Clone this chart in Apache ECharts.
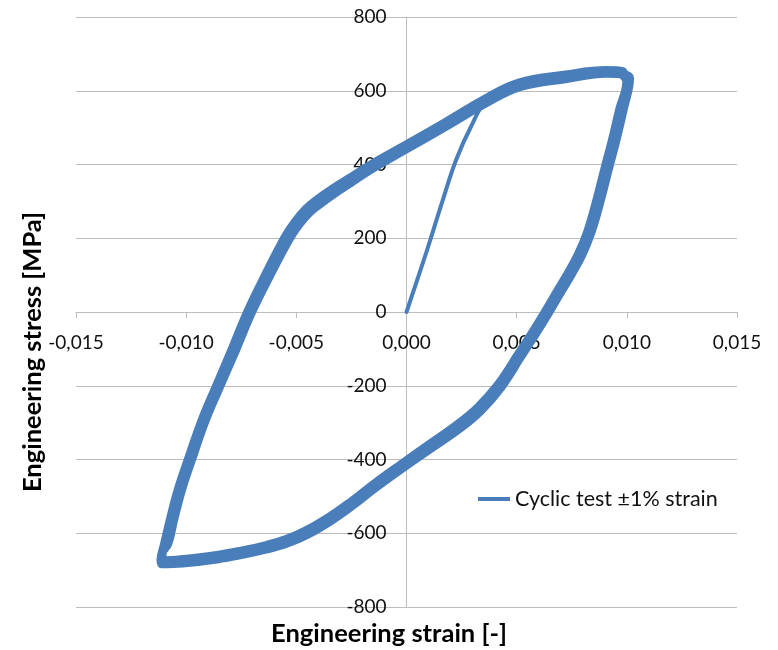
<!DOCTYPE html>
<html>
<head>
<meta charset="utf-8">
<title>Cyclic test ±1% strain</title>
<script src="https://cdn.jsdelivr.net/npm/echarts@6/dist/echarts.min.js"></script>
<style>
  html, body { margin: 0; padding: 0; background: #ffffff; }
  #chart { width: 778px; height: 650px; }
</style>
</head>
<body>
<div id="chart"></div>
<script>
// Axis ticks
const strainTicks = [-0.015, -0.010, -0.005, 0.000, 0.005, 0.010, 0.015];
const stressTicks = [-800, -600, -400, -200, 0, 200, 400, 600, 800];

// First (monotonic) loading from zero up to the first tension peak: [strain, stress MPa]
const firstLoading = [
  [0.00000, 0], [0.00089, 160], [0.00165, 304], [0.00225, 412], [0.00293, 503],
  [0.00367, 575], [0.00512, 616], [0.00725, 638], [0.00907, 651], [0.00975, 649],
  [0.01006, 630]
];

// Cycle 1: unloading from +1% into compression, then reloading into tension
const cycle1Down = [
  [0.01006, 630], [0.00975, 548], [0.00943, 467], [0.00907, 385], [0.00866, 290],
  [0.00830, 217], [0.00789, 157], [0.00743, 106], [0.00689, 52], [0.00635, -3],
  [0.00576, -60], [0.00512, -119], [0.00422, -201], [0.00331, -263], [0.00240, -309],
  [0.00104, -366], [-0.00032, -423], [-0.00145, -472], [-0.00258, -524], [-0.00349, -562],
  [-0.00449, -597], [-0.00544, -622], [-0.00635, -638], [-0.00757, -654], [-0.00861, -665],
  [-0.01015, -676], [-0.01108, -679]
];
const cycle1Up = [
  [-0.01112, -667], [-0.01092, -632], [-0.01065, -565], [-0.01029, -483], [-0.00984, -402],
  [-0.00920, -293], [-0.00857, -204], [-0.00784, -103], [-0.00712, 0], [-0.00630, 100],
  [-0.00544, 198], [-0.00499, 239], [-0.00449, 274], [-0.00394, 301], [-0.00331, 328],
  [-0.00258, 356], [-0.00159, 394], [0.00000, 448], [0.00181, 510], [0.00367, 575],
  [0.00512, 616], [0.00725, 638], [0.00907, 651], [0.00975, 649]
];

// Cycle 2
const cycle2Down = [
  [0.01018, 634], [0.00989, 548], [0.00957, 467], [0.00921, 385], [0.00880, 290],
  [0.00844, 217], [0.00802, 155], [0.00755, 103], [0.00700, 48], [0.00646, -7],
  [0.00587, -64], [0.00523, -123], [0.00433, -206], [0.00342, -269], [0.00250, -316],
  [0.00110, -374], [-0.00027, -431], [-0.00140, -480], [-0.00253, -532], [-0.00344, -570],
  [-0.00444, -605], [-0.00540, -630], [-0.00632, -646], [-0.00755, -662], [-0.00860, -673],
  [-0.01015, -684], [-0.01112, -686]
];
const cycle2Up = [
  [-0.01120, -672], [-0.01106, -634], [-0.01079, -566], [-0.01043, -484], [-0.00998, -403],
  [-0.00934, -294], [-0.00871, -204], [-0.00798, -102], [-0.00726, 2], [-0.00644, 103],
  [-0.00557, 203], [-0.00511, 245], [-0.00460, 281], [-0.00404, 309], [-0.00340, 336],
  [-0.00265, 364], [-0.00164, 402], [-0.00004, 456], [0.00177, 518], [0.00362, 583],
  [0.00508, 624], [0.00722, 646], [0.00906, 658], [0.00982, 655]
];

// Cycle 3
const cycle3Down = [
  [0.00994, 626], [0.00961, 548], [0.00929, 467], [0.00893, 385], [0.00852, 290],
  [0.00816, 217], [0.00776, 159], [0.00731, 109], [0.00678, 56], [0.00624, 1],
  [0.00565, -56], [0.00501, -115], [0.00411, -196], [0.00320, -257], [0.00230, -302],
  [0.00098, -358], [-0.00037, -415], [-0.00150, -464], [-0.00263, -516], [-0.00354, -554],
  [-0.00454, -589], [-0.00548, -614], [-0.00638, -630], [-0.00759, -646], [-0.00862, -657],
  [-0.01015, -668], [-0.01100, -672]
];
const cycle3Up = [
  [-0.01104, -656], [-0.01078, -630], [-0.01051, -564], [-0.01015, -482], [-0.00970, -401],
  [-0.00906, -292], [-0.00843, -204], [-0.00770, -104], [-0.00698, -2], [-0.00616, 97],
  [-0.00531, 193], [-0.00487, 233], [-0.00438, 267], [-0.00384, 293], [-0.00322, 320],
  [-0.00251, 348], [-0.00154, 386], [0.00004, 440], [0.00185, 502], [0.00372, 567],
  [0.00516, 608], [0.00728, 630], [0.00908, 644], [0.00968, 643], [0.00996, 626]
];

const seriesName = 'Cyclic test \u00B11% strain';
const cyclePath = [].concat(
  cycle1Down, cycle1Up,
  cycle2Down, cycle2Up,
  cycle3Down, cycle3Up
);

const FONT = 'Lato, "Open Sans", sans-serif';
const GRID_GREY = '#bdbdbd';
const LINE_BLUE = '#4a7ebb';

// Plot area
const GRID = { left: 76, right: 41, top: 17, bottom: 43 };
const W = 778, H = 650;
const plotW = W - GRID.left - GRID.right;
const plotH = H - GRID.top - GRID.bottom;
// Axes cross at the origin: shift each axis from its grid edge to the zero position
const xMin = strainTicks[0], xMax = strainTicks[strainTicks.length - 1];
const yMin = stressTicks[0], yMax = stressTicks[stressTicks.length - 1];
const yAxisShift = -plotW * (0 - xMin) / (xMax - xMin);
const xAxisShift = -plotH * (0 - yMin) / (yMax - yMin);

const chart = echarts.init(document.getElementById('chart'), null, { renderer: 'canvas' });

const lineSeries = (data, width) => ({
  name: seriesName,
  type: 'line',
  data: data,
  showSymbol: false,
  symbol: 'none',
  smooth: 0.4,
  lineStyle: { color: LINE_BLUE, width: width, cap: 'round', join: 'round' },
  itemStyle: { color: LINE_BLUE },
  emphasis: { disabled: true }
});

chart.setOption({
  backgroundColor: '#ffffff',
  animation: false,
  grid: { left: GRID.left, right: GRID.right, top: GRID.top, bottom: GRID.bottom, containLabel: false },
  xAxis: {
    type: 'value',
    position: 'bottom',
    offset: xAxisShift,
    min: xMin,
    max: xMax,
    interval: 0.005,
    axisLine: { onZero: false, lineStyle: { color: GRID_GREY, width: 1 } },
    axisTick: { show: true, length: 6, inside: false, lineStyle: { color: GRID_GREY } },
    splitLine: { show: false },
    axisLabel: {
      margin: 21,
      fontFamily: FONT,
      fontSize: 19,
      color: '#111111',
      formatter: v => v.toFixed(3).replace('.', ',')
    }
  },
  yAxis: {
    type: 'value',
    position: 'left',
    offset: yAxisShift,
    min: yMin,
    max: yMax,
    interval: 200,
    axisLine: { onZero: false, lineStyle: { color: GRID_GREY, width: 1 } },
    axisTick: { show: false },
    splitLine: { show: true, lineStyle: { color: GRID_GREY, width: 1 } },
    axisLabel: {
      margin: 20,
      fontFamily: FONT,
      fontSize: 19,
      color: '#111111'
    }
  },
  legend: {
    show: true,
    left: 473,
    top: 483,
    itemWidth: 32,
    itemHeight: 14,
    textStyle: { fontFamily: FONT, fontSize: 21.5, color: '#111111', lineHeight: 22 },
    data: [{ name: seriesName, icon: 'path://M0,6 L32,6 L32,10 L0,10 Z', itemStyle: { color: LINE_BLUE } }]
  },
  graphic: [
    {
      type: 'text',
      x: 389, y: 634,
      style: {
        text: 'Engineering strain [-]',
        font: 'bold 25.5px Lato, "Open Sans", sans-serif',
        fill: '#000000',
        textAlign: 'center',
        textVerticalAlign: 'middle'
      }
    },
    {
      type: 'text',
      x: 33, y: 352,
      rotation: Math.PI / 2,
      style: {
        text: 'Engineering stress [MPa]',
        font: 'bold 25.5px Lato, "Open Sans", sans-serif',
        fill: '#000000',
        textAlign: 'center',
        textVerticalAlign: 'middle'
      }
    }
  ],
  series: [
    lineSeries(firstLoading, 4),
    lineSeries(cyclePath, 6.5)
  ]
});
</script>
</body>
</html>
